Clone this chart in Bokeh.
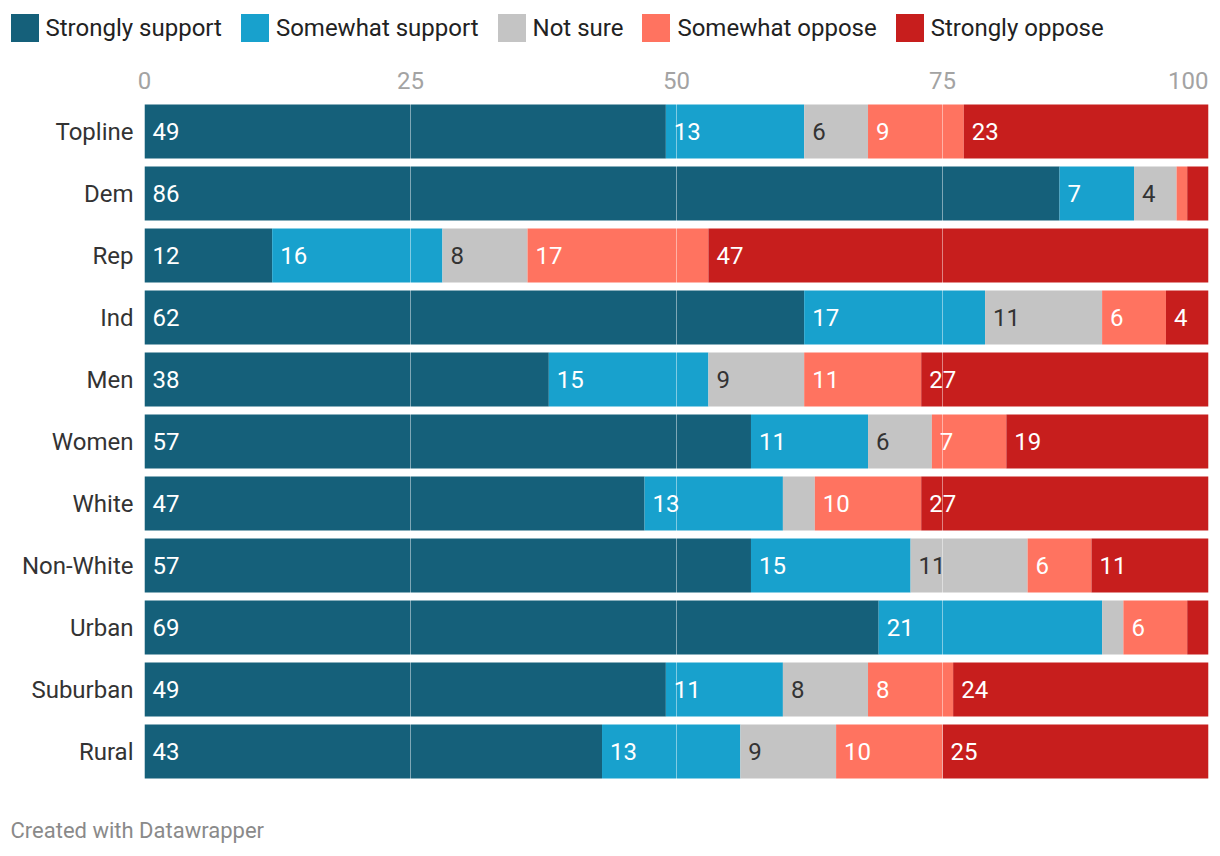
from bokeh.plotting import figure
from bokeh.models import ColumnDataSource, Range1d
from bokeh.core.properties import value
from bokeh.embed import file_html
from bokeh.resources import INLINE

categories = ["Topline", "Dem", "Rep", "Ind", "Men", "Women", "White",
              "Non-White", "Urban", "Suburban", "Rural"]
strongly_support = [49, 86, 12, 62, 38, 57, 47, 57, 69, 49, 43]
somewhat_support = [13, 7, 16, 17, 15, 11, 13, 15, 21, 11, 13]
not_sure = [6, 4, 8, 11, 9, 6, 3, 11, 2, 8, 9]
somewhat_oppose = [9, 1, 17, 6, 11, 7, 10, 6, 6, 8, 10]
strongly_oppose = [23, 2, 47, 4, 27, 19, 27, 11, 2, 24, 25]
series_names = ["Strongly support", "Somewhat support", "Not sure",
                "Somewhat oppose", "Strongly oppose"]
x_ticks = [0, 25, 50, 75, 100]
footer = "Created with Datawrapper"

colors = ["#15607a", "#18a1cd", "#c4c4c4", "#ff7360", "#c71e1d"]
label_colors = ["#ffffff", "#ffffff", "#333333", "#ffffff", "#ffffff"]
FONT = "Roboto"

# layout (pixels)
W, H = 1212, 850
PX0, PX100 = 144, 1208          # frame positions of 0 and 100
ROW0, ROWSTEP = 131, 62         # centre of first row, row pitch
BAR_H = 54
SCALE = (PX100 - PX0) / 100.0


def xd(px):
    return (px - PX0) / SCALE


def yd(py):
    return (py - ROW0) / ROWSTEP


series = [strongly_support, somewhat_support, not_sure, somewhat_oppose, strongly_oppose]
keys = ["s%d" % i for i in range(len(series))]
n = len(categories)
data = {"row": list(range(n)), "cat": categories}
for k, s in zip(keys, series):
    data[k] = s
source = ColumnDataSource(data)

p = figure(width=W, height=H, output_backend="svg", toolbar_location=None,
           x_range=Range1d(xd(0), xd(W)), y_range=Range1d(yd(H), yd(0)),
           x_axis_type=None, y_axis_type=None, min_border=0,
           min_border_left=0, min_border_right=0, min_border_top=0,
           min_border_bottom=0)
p.outline_line_color = None
p.grid.visible = False

p.hbar_stack(keys, y="row", height=BAR_H / ROWSTEP, color=colors, source=source,
             line_color=None, legend_label=series_names)

# grid lines drawn over the bars
p.segment(x0=x_ticks, x1=x_ticks, y0=[-0.5] * len(x_ticks), y1=[n - 0.5] * len(x_ticks),
          line_color="white", line_alpha=0.45, line_width=1)

# value labels
lx, ly, lt, lc = [], [], [], []
for i in range(n):
    start = 0
    for j, s in enumerate(series):
        v = s[i]
        if v >= 4:
            lx.append(start)
            ly.append(i)
            lt.append(str(v))
            lc.append(label_colors[j])
        start += v
lsrc = ColumnDataSource(dict(x=lx, y=ly, t=lt, c=lc))
p.text(x="x", y="y", text="t", source=lsrc, text_color="c", x_offset=8,
       text_baseline="middle", text_align="left", text_font=value(FONT),
       text_font_size="24px")

# category labels
p.text(x=[xd(133)] * n, y=list(range(n)), text=categories, text_align="right",
       text_baseline="middle", text_font=value(FONT), text_font_size="24px",
       text_color="#333333")

# x tick labels (top)
inner = [t for t in x_ticks if t != max(x_ticks)]
p.text(x=inner, y=[yd(80)] * len(inner), text=[str(t) for t in inner],
       text_align="center", text_baseline="middle", text_font=value(FONT),
       text_font_size="24px", text_color="#a3a3a3")
p.text(x=[max(x_ticks)], y=[yd(80)], text=[str(max(x_ticks))],
       text_align="right", text_baseline="middle", text_font=value(FONT),
       text_font_size="24px", text_color="#a3a3a3")

# footer
p.text(x=[xd(10)], y=[yd(830)], text=[footer], text_align="left",
       text_baseline="alphabetic", text_font=value(FONT), text_font_size="22px",
       text_color="#8a8a8a")

# legend (area legend glyphs are inset by 10% on each side)
GLYPH = 35
lg = p.legend[0]
lg.orientation = "horizontal"
lg.location = (6.5, H - 10 - GLYPH)
lg.glyph_width = GLYPH
lg.glyph_height = GLYPH
lg.label_standoff = 4
lg.spacing = 15
lg.padding = 0
lg.margin = 0
lg.background_fill_alpha = 0
lg.border_line_alpha = 0
lg.label_text_font = FONT
lg.label_text_font_size = "24px"
lg.label_text_color = "#222222"
lg.label_text_baseline = "middle"

open("out.html", "w").write(file_html(p, INLINE))
